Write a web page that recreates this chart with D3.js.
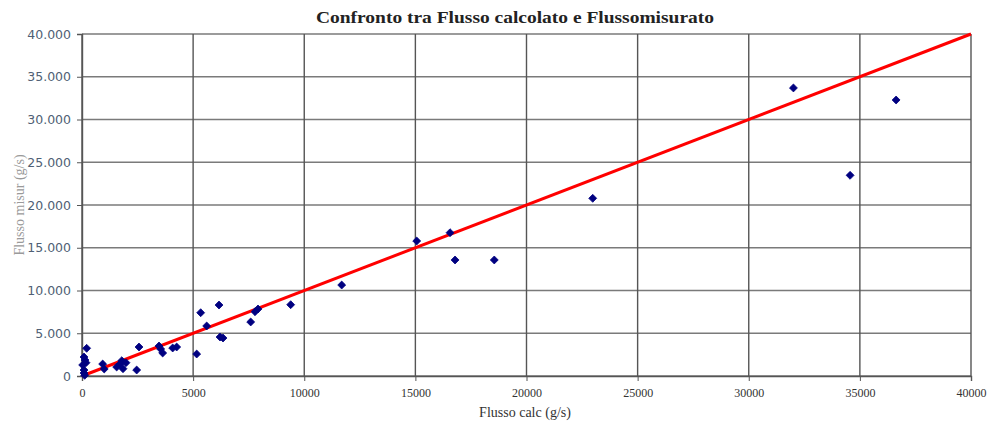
<!DOCTYPE html>
<html>
<head>
<meta charset="utf-8">
<script src="https://cdn.jsdelivr.net/npm/d3@7"></script>
<style>
  body { margin: 0; background: #fff; }
  svg { display: block; }
</style>
</head>
<body>
<svg id="chart" width="992" height="425"></svg>
<script>
// Data
var flussoCalc = [210, 90, 135, 180, 30, 90, 90, 120, 930, 1000, 1560, 1710, 1790, 1845, 1980,
  2460, 2565, 3465, 3540, 3630, 4080, 4260, 5160, 5340, 5610, 6165, 6210, 6345, 7590, 7785,
  7920, 9390, 11685, 15060, 16560, 16785, 18550, 22980, 32010, 34560, 36630];
var flussoMisur = [3240, 2220, 1870, 1555, 1290, 700, 350, 80, 1400, 820, 1050, 1400, 1790, 850, 1555,
  700, 3390, 3510, 3160, 2690, 3275, 3390, 2570, 7400, 5850, 8300, 4560, 4440, 6320, 7520,
  7840, 8340, 10640, 15790, 16760, 13570, 13570, 20780, 33690, 23470, 32280];
var lineX = [0, 40000];
var tickValues = [0, 5000, 10000, 15000, 20000, 25000, 30000, 35000, 40000];

var margin = { top: 34, right: 21, bottom: 49, left: 82 },
    width = 992 - margin.left - margin.right,
    height = 425 - margin.top - margin.bottom;

var svg = d3.select("#chart");
var g = svg.append("g")
    .attr("transform", "translate(" + margin.left + "," + margin.top + ")");

var x = d3.scaleLinear().domain([0, 40000]).range([0, width]);
var y = d3.scaleLinear().domain([0, 40000]).range([height, 0]);

// Grid lines
g.append("g").selectAll("line")
    .data(tickValues)
    .enter().append("line")
    .attr("x1", 0).attr("x2", width)
    .attr("y1", d => y(d)).attr("y2", d => y(d))
    .attr("stroke", "#7a7a7a")
    .attr("stroke-width", 1.6);

g.append("g").selectAll("line")
    .data(tickValues)
    .enter().append("line")
    .attr("x1", d => x(d)).attr("x2", d => x(d))
    .attr("y1", 0).attr("y2", height)
    .attr("stroke", "#555")
    .attr("stroke-width", 1.4);

// Axes
var fmtY = d => d3.format(",")(d).replace(/,/g, ".");
var yAxis = g.append("g")
    .call(d3.axisLeft(y).tickValues(tickValues).tickFormat(fmtY).tickSize(5).tickPadding(6));
yAxis.select(".domain").attr("stroke", "#555").attr("stroke-width", 1.4);
yAxis.selectAll(".tick line").attr("stroke", "#555");
yAxis.selectAll("text")
    .attr("fill", "#4f5f75")
    .style("font-family", "'DejaVu Sans', sans-serif")
    .style("font-size", "12.5px");

var xAxis = g.append("g")
    .attr("transform", "translate(0," + height + ")")
    .call(d3.axisBottom(x).tickValues(tickValues).tickFormat(d3.format("d")).tickSize(5).tickPadding(7));
xAxis.select(".domain").attr("stroke", "#555").attr("stroke-width", 1.4);
xAxis.selectAll(".tick line").attr("stroke", "#555");
xAxis.selectAll("text")
    .attr("fill", "#333")
    .style("font-family", "'Liberation Serif', serif")
    .style("font-size", "12px");

// Reference line y = x
var line = d3.line().x(d => x(d)).y(d => y(d));
g.append("path")
    .datum(lineX)
    .attr("d", line)
    .attr("fill", "none")
    .attr("stroke", "#ff0000")
    .attr("stroke-width", 3);

// Points
g.append("g").selectAll("path")
    .data(flussoCalc)
    .enter().append("path")
    .attr("d", d3.symbol().type(d3.symbolDiamond2).size(40))
    .attr("transform", (d, i) => "translate(" + x(d) + "," + y(flussoMisur[i]) + ")")
    .attr("fill", "#000080")
    .attr("stroke", "#000080")
    .attr("stroke-width", 0.8)
    .attr("stroke-linejoin", "round");

// Titles
svg.append("text")
    .attr("x", 515).attr("y", 23)
    .attr("text-anchor", "middle")
    .attr("textLength", 398)
    .attr("lengthAdjust", "spacingAndGlyphs")
    .style("font-family", "'Liberation Serif', serif")
    .style("font-weight", "bold")
    .style("font-size", "16px")
    .attr("fill", "#222")
    .text("Confronto tra Flusso calcolato e Flussomisurato");

svg.append("text")
    .attr("x", 525).attr("y", 417)
    .attr("text-anchor", "middle")
    .style("font-family", "'Liberation Serif', serif")
    .style("font-size", "14px")
    .attr("fill", "#333")
    .text("Flusso calc (g/s)");

svg.append("text")
    .attr("transform", "translate(24,205) rotate(-90)")
    .attr("text-anchor", "middle")
    .style("font-family", "'Liberation Serif', serif")
    .style("font-size", "14px")
    .attr("fill", "#9a9a9a")
    .text("Flusso misur (g/s)");
</script>
</body>
</html>
